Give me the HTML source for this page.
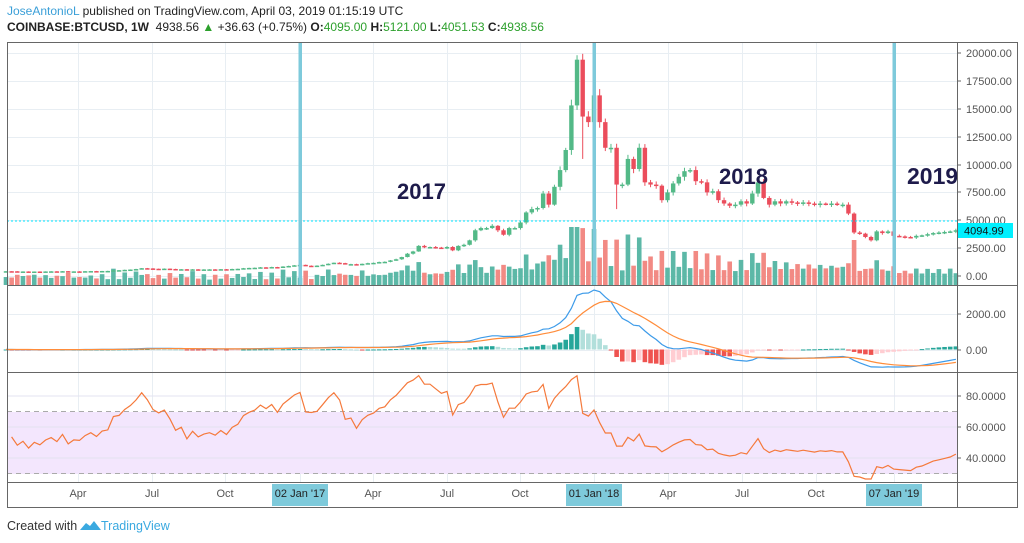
<!DOCTYPE html>
<html><head><meta charset="utf-8"><style>
body{margin:0;background:#fff;width:1024px;height:543px;overflow:hidden;font-family:"Liberation Sans",sans-serif;}
.h{position:absolute;left:7px;font-size:12px;color:#222;white-space:nowrap}
</style></head><body>
<div class="h" style="top:4px"><span style="color:#3a9fd8">JoseAntonioL</span> published on TradingView.com, April 03, 2019 01:15:19 UTC</div>
<div class="h" style="top:20px"><b>COINBASE:BTCUSD, 1W</b>&nbsp; 4938.56 <span style="color:#2ca02c">▲</span> +36.63 (+0.75%) <b>O:</b><span style="color:#2ca02c">4095.00</span> <b>H:</b><span style="color:#2ca02c">5121.00</span> <b>L:</b><span style="color:#2ca02c">4051.53</span> <b>C:</b><span style="color:#2ca02c">4938.56</span></div>
<svg id="s" width="1024" height="543" style="position:absolute;left:0;top:0" font-family="Liberation Sans, sans-serif">
<g id="grid" stroke="#e8eef3" stroke-width="1"></g>
<rect x="7" y="412" width="950" height="62" fill="#f3e6fd"/>
<line x1="7" x2="957" y1="411.5" y2="411.5" stroke="#aaa" stroke-dasharray="5,4"/>
<line x1="7" x2="957" y1="473.5" y2="473.5" stroke="#aaa" stroke-dasharray="5,4"/>
<g stroke="#e3e3f0"><line x1="7" x2="957" y1="427" y2="427"/><line x1="7" x2="957" y1="458" y2="458"/><line x1="7" x2="957" y1="396" y2="396"/></g>
<g id="vol"></g>
<g id="cand"></g>
<g id="hist"></g>
<g id="lines"></g>
<line x1="7" x2="957" y1="221" y2="221" stroke="#00e5ff" stroke-dasharray="2,2"/>
<g fill="#7ecadb"><rect x="298.5" y="42" width="3.5" height="243"/><rect x="592.5" y="42" width="3.5" height="243"/><rect x="892.5" y="42" width="3.5" height="243"/></g>
<g font-weight="bold" font-size="22" fill="#1e1b4b"><text x="397" y="199">2017</text><text x="719" y="184">2018</text></g>
<svg x="0" y="0" width="957" height="543"><text x="907" y="184" font-weight="bold" font-size="23" fill="#1e1b4b">2019</text></svg>
<rect x="7.5" y="42.5" width="1010" height="465" fill="none" stroke="#666"/>
<g stroke="#666"><line x1="957.5" x2="957.5" y1="42" y2="508"/><line x1="7" x2="1018" y1="285.5" y2="285.5"/><line x1="7" x2="1018" y1="372.5" y2="372.5"/><line x1="7" x2="1018" y1="482.5" y2="482.5"/></g>
<g font-size="11" fill="#555" id="ax">
<text x="966" y="57">20000.00</text><text x="966" y="85">17500.00</text><text x="966" y="113">15000.00</text><text x="966" y="141">12500.00</text><text x="966" y="169">10000.00</text><text x="966" y="196">7500.00</text><text x="966" y="224">5000.00</text><text x="966" y="252">2500.00</text><text x="966" y="280">0.00</text>
<text x="966" y="318">2000.00</text><text x="966" y="354">0.00</text>
<text x="966" y="400">80.0000</text><text x="966" y="431">60.0000</text><text x="966" y="462">40.0000</text>
</g>
<g stroke="#666"><line x1="957" x2="961" y1="53" y2="53"/><line x1="957" x2="961" y1="81" y2="81"/><line x1="957" x2="961" y1="109" y2="109"/><line x1="957" x2="961" y1="137" y2="137"/><line x1="957" x2="961" y1="165" y2="165"/><line x1="957" x2="961" y1="192" y2="192"/><line x1="957" x2="961" y1="220" y2="220"/><line x1="957" x2="961" y1="248" y2="248"/><line x1="957" x2="961" y1="276" y2="276"/><line x1="957" x2="961" y1="314" y2="314"/><line x1="957" x2="961" y1="350" y2="350"/><line x1="957" x2="961" y1="396" y2="396"/><line x1="957" x2="961" y1="427" y2="427"/><line x1="957" x2="961" y1="458" y2="458"/></g>
<rect x="958" y="223" width="55" height="15" fill="#00f0ff"/>
<text x="964" y="234.5" font-size="11" fill="#111">4094.99</text>
<g font-size="11" fill="#555" text-anchor="middle">
<text x="78" y="497">Apr</text><text x="152" y="497">Jul</text><text x="225" y="497">Oct</text><text x="373" y="497">Apr</text><text x="447" y="497">Jul</text><text x="520" y="497">Oct</text><text x="668" y="497">Apr</text><text x="742" y="497">Jul</text><text x="816" y="497">Oct</text>
</g>
<g fill="#7ecadb"><rect x="272" y="484" width="56" height="22"/><rect x="566" y="484" width="56" height="22"/><rect x="866" y="484" width="56" height="22"/></g>
<g font-size="11" fill="#222" text-anchor="middle"><text x="300" y="497">02 Jan '17</text><text x="594" y="497">01 Jan '18</text><text x="894" y="497">07 Jan '19</text></g>
<text x="7" y="530" font-size="12.5" fill="#333">Created with</text>
<path d="M80 530 l6 -7 l4 3 l4 -5 l7 9 z" fill="#3aa9e0"/>
<text x="101" y="530" font-size="12.5" fill="#3aa9e0">TradingView</text>
</svg>
<script>
var K=[[0,430],[4,380],[8,420],[12,415],[17,450],[20,520],[22,580],[24,700],[25,680],[26,650],[28,660],[30,590],[34,575],[38,610],[40,630],[42,700],[44,740],[46,770],[48,780],[50,900],[51,960],[52,1000],[54,920],[56,1000],[58,1190],[60,1050],[62,1000],[64,1150],[66,1250],[68,1400],[70,1700],[71,2000],[72,2200],[73,2700],[74,2600],[75,2600],[76,2550],[77,2500],[78,2600],[79,2300],[80,2700],[81,2800],[82,3200],[83,4100],[84,4300],[85,4300],[86,4500],[87,4100],[88,3700],[89,4300],[90,4300],[91,4800],[92,5700],[93,6000],[94,6100],[95,7400],[96,6400],[97,8000],[98,9500],[99,11300],[100,15300],[101,19400],[102,14300],[103,13800],[104,16200],[105,13800],[106,11500],[107,11500],[108,8200],[109,8200],[110,10500],[111,9600],[112,11500],[113,8400],[114,8200],[115,8100],[116,6800],[117,7500],[118,8300],[119,8900],[120,9400],[121,9500],[122,8500],[123,8400],[124,7500],[125,7600],[126,6800],[127,6500],[128,6300],[129,6400],[130,6700],[131,6500],[132,7400],[133,8400],[134,7000],[135,6400],[136,6700],[137,6500],[138,6700],[139,6600],[140,6500],[141,6600],[142,6500],[143,6400],[144,6500],[145,6450],[146,6500],[147,6400],[148,6400],[149,5600],[150,3900],[151,3800],[152,3500],[153,3200],[154,4000],[155,3850],[156,4000],[157,3600],[158,3550],[159,3500],[160,3450],[161,3600],[162,3650],[163,3750],[164,3850],[165,3900],[166,3950],[167,4000],[168,4100]];
var C=[];
for(var i=0;i<K.length-1;i++){var a=K[i],b=K[i+1];for(var w=a[0];w<b[0];w++){var t=(w-a[0])/(b[0]-a[0]);var n=(w-a[0])?1+0.04*Math.sin(w*2.7):1;C[w]=(a[1]+(b[1]-a[1])*t)*n;}}
C[168]=4100;
function X(w){return 300+(w-52)*5.654;}
function PY(p){return 276-p*223/20000;}
var ns="http://www.w3.org/2000/svg";
function el(g,tag,at){var e=document.createElementNS(ns,tag);for(var k in at)e.setAttribute(k,at[k]);document.getElementById(g).appendChild(e);return e;}
[78,152,225,300,373,447,520,594,668,742,816,894].forEach(function(x){el('grid','line',{x1:x+.5,x2:x+.5,y1:42,y2:482});});
[53,81,109,137,165,192,220,248,276,314,350].forEach(function(y){el('grid','line',{x1:7,x2:957,y1:y+.5,y2:y+.5});});
for(var w=0;w<=168;w++){var c=C[w],o=w?C[w-1]:420;var up=c>=o;var x=X(w);
 var hi=Math.max(o,c)*(1+0.015+0.02*Math.abs(Math.sin(w*1.3))),lo=Math.min(o,c)*(1-0.015-0.025*Math.abs(Math.cos(w*1.7)));
 if(w==101)hi=19800;if(w==102)lo=10500;if(w==108)lo=6000;
 var col=up?'#53b987':'#eb4d5c';
 el('cand','line',{x1:x,x2:x,y1:PY(hi),y2:PY(lo),stroke:col,'stroke-width':1});
 var y1=PY(Math.max(o,c)),y2=PY(Math.min(o,c));if(y2-y1<1.5)y2=y1+1.5;
 el('cand','rect',{x:x-2.2,y:y1,width:4.4,height:y2-y1,fill:col});
 var r=Math.abs(c-o)/o;var v=6+0.0018*c+50*r;v*=1+0.3*Math.sin(w*3.1);if(w==150)v=45;if(w==101)v=60;if(v>58)v=58;
 el('vol','rect',{x:x-2.3,y:285-v,width:4.6,height:v,fill:up?'#5cb8a7':'#f28a84'});
}
function ema(a,n){var k=2/(n+1),r=[],e=a[0];for(var i=0;i<a.length;i++){e=i?a[i]*k+e*(1-k):a[i];r.push(e);}return r;}
var e12=ema(C,12),e26=ema(C,26),M=C.map(function(v,i){return e12[i]-e26[i];}),S=ema(M,9);
function MY(v){var y=349.5-v*0.018;return Math.max(287,Math.min(371,y));}
var pm='',ps='';
for(var w=0;w<=168;w++){var h=M[w]-S[w],hp=w?M[w-1]-S[w-1]:0;var col=h>=0?(h>=hp?'#26a69a':'#b2dfdb'):(h<hp?'#ef5350':'#ffcdd2');
 var y0=349.5,y=MY(h);el('hist','rect',{x:X(w)-2.3,y:Math.min(y,y0),width:4.6,height:Math.max(1,Math.abs(y-y0)),fill:col});
 pm+=(w?'L':'M')+X(w).toFixed(1)+' '+MY(M[w]).toFixed(1);ps+=(w?'L':'M')+X(w).toFixed(1)+' '+MY(S[w]).toFixed(1);}
el('lines','path',{d:pm,fill:'none',stroke:'#3d9be9','stroke-width':1.2});
el('lines','path',{d:ps,fill:'none',stroke:'#ff8c3a','stroke-width':1.2});
var ag=C[0]*0.03,al=C[0]*0.025,pr='';
for(var w=1;w<=168;w++){var d=C[w]-C[w-1];var g=Math.max(d,0),l=Math.max(-d,0);
 ag=(ag*13+g)/14;al=(al*13+l)/14;
 var rsi=al==0?100:100-100/(1+ag/al);
 var y=458-(rsi-40)*1.55;y=Math.max(374,Math.min(479,y));
 pr+=(w>1?'L':'M')+X(w).toFixed(1)+' '+y.toFixed(1);}
el('lines','path',{d:pr,fill:'none',stroke:'#f5793b','stroke-width':1.2});
</script>
</body></html>
